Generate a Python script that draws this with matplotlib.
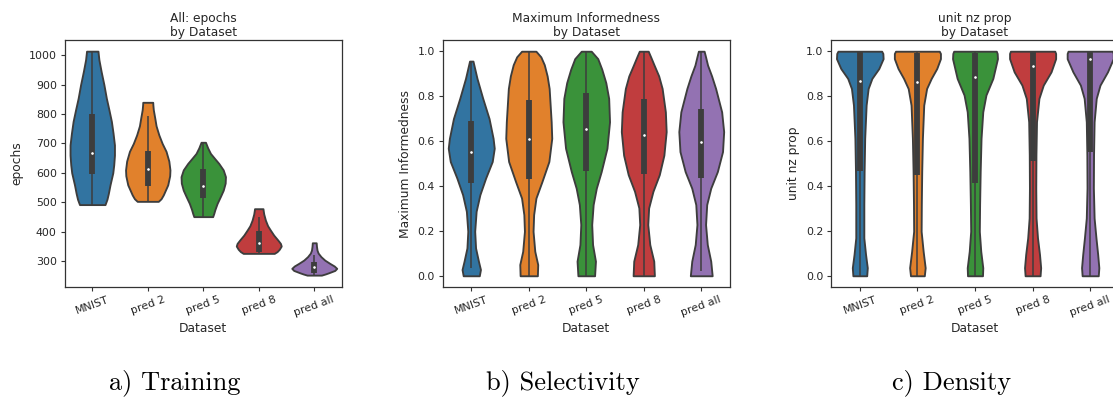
import numpy as np
import matplotlib
matplotlib.use("Agg")
import matplotlib.pyplot as plt

categories = ["MNIST", "pred 2", "pred 5", "pred 8", "pred all"]
colors = ["#3274A1", "#E1812C", "#3A923A", "#C03D3E", "#9372B2"]
gray = "#3d3d3d"

# ---- Panel a: epochs (violin profiles: value, half-width in category units) ----
epochs_vals = [
    [492, 510, 530, 559, 600, 627, 660, 695, 735, 775, 815, 854, 900, 945, 985, 1005, 1014],
    [503, 512, 525, 559, 590, 610, 640, 673, 700, 729, 760, 786, 815, 832, 840],
    [451, 462, 475, 496, 520, 541, 565, 587, 610, 632, 650, 666, 685, 697, 704],
    [326, 332, 340, 351, 360, 371, 388, 405, 420, 439, 460, 472, 478],
    [252, 256, 260, 268, 275, 283, 292, 303, 315, 327, 337, 350, 362],
]
epochs_hw = [
    [0.23, 0.265, 0.29, 0.32, 0.37, 0.387, 0.40, 0.40, 0.375, 0.345, 0.30, 0.254, 0.21, 0.16, 0.12, 0.108, 0.103],
    [0.19, 0.24, 0.28, 0.36, 0.395, 0.40, 0.38, 0.33, 0.26, 0.20, 0.15, 0.127, 0.10, 0.092, 0.09],
    [0.17, 0.19, 0.21, 0.25, 0.31, 0.36, 0.395, 0.40, 0.36, 0.28, 0.20, 0.13, 0.08, 0.055, 0.04],
    [0.28, 0.33, 0.37, 0.405, 0.39, 0.345, 0.27, 0.21, 0.16, 0.12, 0.09, 0.08, 0.076],
    [0.13, 0.20, 0.26, 0.37, 0.405, 0.36, 0.28, 0.19, 0.12, 0.07, 0.05, 0.04, 0.035],
]
epochs_q1 = [596, 556, 513, 330, 260]
epochs_med = [667, 613, 554, 362, 279]
epochs_q3 = [800, 673, 613, 402, 298]
epochs_wlo = [492, 503, 451, 326, 252]
epochs_whi = [1014, 792, 704, 451, 320]

# ---- Panel b: Maximum Informedness ----
inf_vals = [
    [0.0, 0.028, 0.065, 0.124, 0.198, 0.287, 0.361, 0.435, 0.509, 0.568, 0.612, 0.70, 0.79, 0.879, 0.956],
    [0.0, 0.05, 0.109, 0.198, 0.272, 0.346, 0.42, 0.509, 0.612, 0.686, 0.834, 0.89, 0.94, 0.975, 1.0],
    [0.0, 0.065, 0.139, 0.228, 0.317, 0.39, 0.464, 0.568, 0.686, 0.79, 0.86, 0.92, 0.967, 1.0],
    [0.0, 0.065, 0.139, 0.228, 0.302, 0.376, 0.45, 0.537, 0.642, 0.73, 0.834, 0.89, 0.938, 0.975, 1.0],
    [0.0, 0.065, 0.139, 0.228, 0.317, 0.39, 0.464, 0.553, 0.642, 0.73, 0.834, 0.89, 0.938, 0.975, 1.0],
]
inf_hw = [
    [0.14, 0.16, 0.125, 0.075, 0.06, 0.085, 0.15, 0.25, 0.365, 0.40, 0.38, 0.31, 0.20, 0.10, 0.03],
    [0.15, 0.156, 0.105, 0.075, 0.085, 0.125, 0.23, 0.35, 0.40, 0.39, 0.355, 0.32, 0.27, 0.21, 0.125],
    [0.145, 0.16, 0.11, 0.095, 0.12, 0.175, 0.26, 0.36, 0.405, 0.39, 0.34, 0.27, 0.20, 0.087],
    [0.185, 0.174, 0.105, 0.07, 0.085, 0.16, 0.27, 0.35, 0.39, 0.376, 0.32, 0.26, 0.18, 0.12, 0.078],
    [0.19, 0.165, 0.105, 0.075, 0.095, 0.165, 0.28, 0.37, 0.39, 0.355, 0.25, 0.18, 0.11, 0.075, 0.05],
]
inf_q1 = [0.411, 0.432, 0.467, 0.454, 0.435]
inf_med = [0.553, 0.608, 0.655, 0.626, 0.596]
inf_q3 = [0.689, 0.783, 0.812, 0.786, 0.743]
inf_wlo = [0.035, 0.0, 0.0, 0.0, 0.02]
inf_whi = [0.956, 1.0, 1.0, 1.0, 1.0]

# ---- Panel c: unit nz prop ----
nz_vals = [
    [0.0, 0.036, 0.095, 0.169, 0.317, 0.464, 0.612, 0.76, 0.834, 0.879, 0.923, 0.967, 0.99, 1.0],
    [0.0, 0.036, 0.109, 0.198, 0.317, 0.464, 0.612, 0.76, 0.834, 0.879, 0.923, 0.967, 0.99, 1.0],
    [0.0, 0.036, 0.109, 0.198, 0.317, 0.464, 0.612, 0.73, 0.805, 0.879, 0.967, 0.99, 1.0],
    [0.0, 0.036, 0.095, 0.169, 0.257, 0.391, 0.538, 0.686, 0.79, 0.849, 0.908, 0.967, 0.99, 1.0],
    [0.0, 0.036, 0.095, 0.169, 0.257, 0.391, 0.538, 0.686, 0.79, 0.849, 0.908, 0.967, 0.99, 1.0],
]
nz_hw = [
    [0.12, 0.13, 0.10, 0.07, 0.07, 0.075, 0.085, 0.11, 0.145, 0.21, 0.33, 0.405, 0.40, 0.38],
    [0.12, 0.135, 0.10, 0.065, 0.068, 0.075, 0.087, 0.11, 0.16, 0.24, 0.336, 0.40, 0.40, 0.38],
    [0.13, 0.135, 0.10, 0.075, 0.08, 0.09, 0.105, 0.135, 0.19, 0.31, 0.39, 0.385, 0.37],
    [0.13, 0.14, 0.12, 0.085, 0.06, 0.055, 0.058, 0.068, 0.11, 0.185, 0.32, 0.40, 0.40, 0.385],
    [0.14, 0.15, 0.13, 0.10, 0.068, 0.055, 0.058, 0.068, 0.105, 0.17, 0.30, 0.40, 0.40, 0.385],
]
nz_q1 = [0.467, 0.447, 0.412, 0.509, 0.55]
nz_med = [0.868, 0.864, 0.884, 0.933, 0.964]
nz_q3 = [1.0, 0.99, 0.99, 1.0, 1.0]
nz_wlo = [0.0, 0.0, 0.0, 0.0, 0.0]
nz_whi = [1.0, 1.0, 1.0, 1.0, 1.0]

titles = ["All: epochs\nby Dataset", "Maximum Informedness\nby Dataset", "unit nz prop\nby Dataset"]
ylabels = ["epochs", "Maximum Informedness", "unit nz prop"]
captions = ["a) Training", "b) Selectivity", "c) Density"]

W, H = 1113, 397
fig = plt.figure(figsize=(W / 100, H / 100), dpi=100)

axes_px = [(64.5, 342.0), (442.5, 730.0), (831.0, 1119.0)]
top_px, bot_px = 40.0, 287.0

panels = [
    (epochs_vals, epochs_hw, epochs_q1, epochs_med, epochs_q3, epochs_wlo, epochs_whi,
     (211.6, 1052.0), [300, 400, 500, 600, 700, 800, 900, 1000], "{:.0f}"),
    (inf_vals, inf_hw, inf_q1, inf_med, inf_q3, inf_wlo, inf_whi,
     (-0.05, 1.05), [0.0, 0.2, 0.4, 0.6, 0.8, 1.0], "{:.1f}"),
    (nz_vals, nz_hw, nz_q1, nz_med, nz_q3, nz_wlo, nz_whi,
     (-0.05, 1.05), [0.0, 0.2, 0.4, 0.6, 0.8, 1.0], "{:.1f}"),
]

fs_tick = 7.9
fs_lab = 8.8
tick_color = "#262626"
caption_x = [175, 563, 952]

for k, (l, r) in enumerate(axes_px):
    ax = fig.add_axes([l / W, (H - bot_px) / H, (r - l) / W, (bot_px - top_px) / H])
    vals, hws, q1, med, q3, wlo, whi, ylim, yticks, fmt = panels[k]
    pos = np.arange(len(categories))
    for i in range(len(categories)):
        st = {
            "coords": np.array(vals[i], dtype=float),
            "vals": np.array(hws[i], dtype=float),
            "mean": med[i], "median": med[i],
            "min": vals[i][0], "max": vals[i][-1],
        }
        parts = ax.violin([st], positions=[pos[i]], widths=2 * max(hws[i]),
                          showmeans=False, showextrema=False, showmedians=False)
        for b in parts["bodies"]:
            b.set_facecolor(colors[i])
            b.set_edgecolor(gray)
            b.set_linewidth(1.35)
            b.set_alpha(1)
            b.set_zorder(1)
            b.set_joinstyle("round")
        ax.vlines(pos[i], wlo[i], whi[i], color=gray, lw=1.1, zorder=2)
        ax.vlines(pos[i], q1[i], q3[i], color=gray, lw=4.2, zorder=2)
        ax.scatter([pos[i]], [med[i]], s=5, color="white", edgecolor=gray,
                   linewidth=0.3, zorder=3)
    ax.set_xlim(-0.5, 4.5)
    ax.set_ylim(*ylim)
    ax.set_yticks(yticks)
    ax.set_yticklabels([fmt.format(t) for t in yticks])
    ax.set_xticks(pos)
    ax.set_xticklabels(categories, rotation=20)
    ax.tick_params(labelsize=fs_tick, colors="#333333", labelcolor=tick_color,
                   length=3, width=0.8, pad=2.5)
    for s in ax.spines.values():
        s.set_color("#333333")
        s.set_linewidth(0.9)
    ax.set_title(titles[k], fontsize=fs_lab, color=tick_color, pad=3, linespacing=1.05)
    ax.set_xlabel("Dataset", fontsize=fs_lab, color=tick_color, labelpad=2.5)
    ax.set_ylabel(ylabels[k], fontsize=fs_lab, color=tick_color, labelpad=4)
    fig.text(caption_x[k] / W, (H - 389) / H, captions[k], fontsize=19,
             family="cmr10", ha="center", va="baseline", color="black")

fig.savefig("out.png", dpi=100)
